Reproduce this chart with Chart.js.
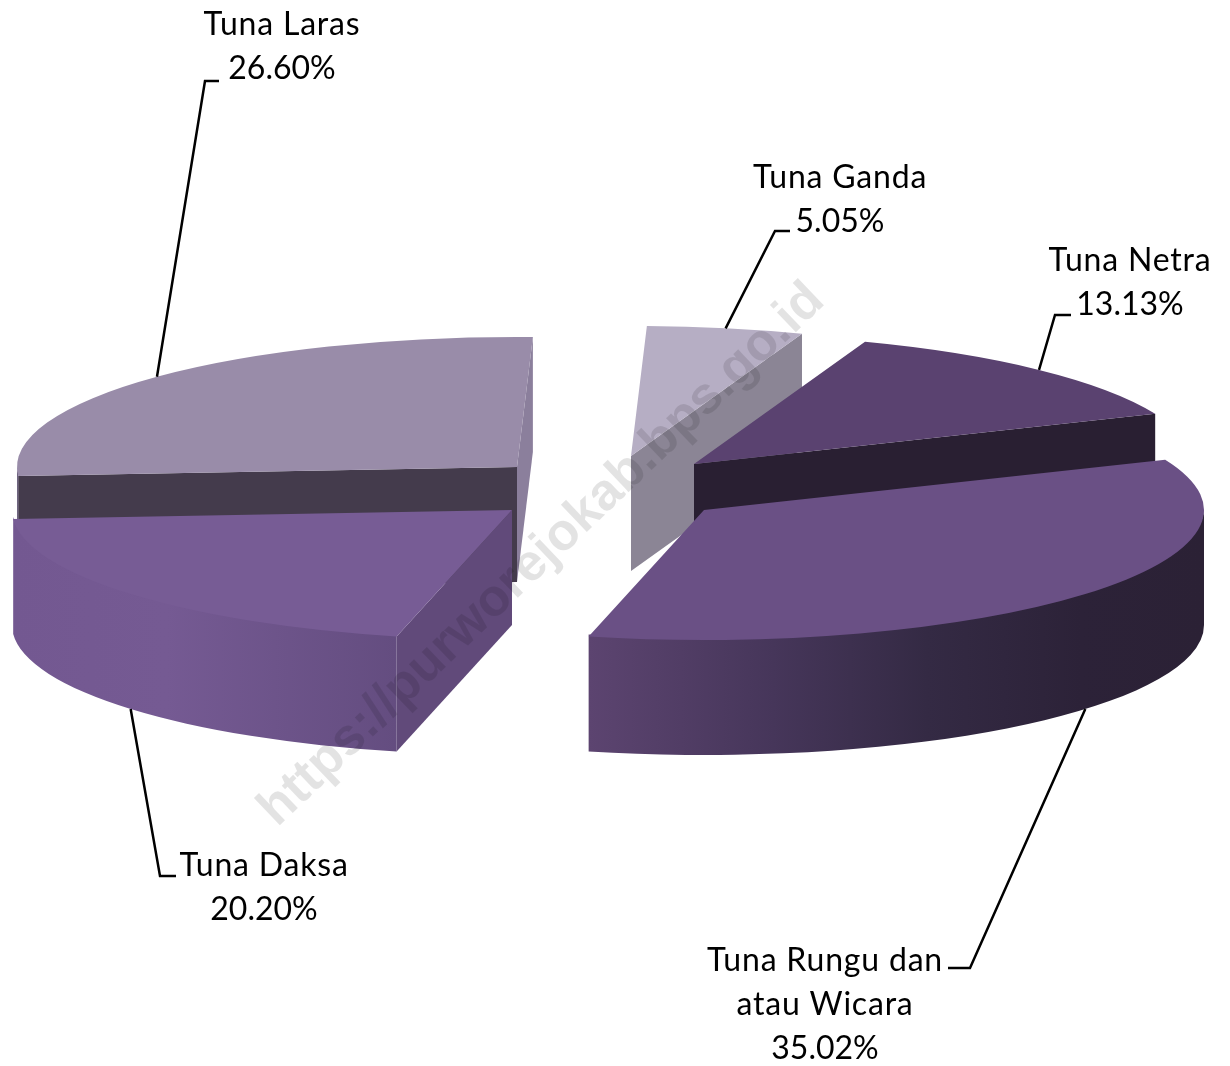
<!DOCTYPE html>
<html>
<head>
<meta charset="utf-8">
<title>Tuna</title>
<script src="https://cdn.jsdelivr.net/npm/chart.js@4/dist/chart.umd.min.js"></script>
<style>
  html, body { margin: 0; padding: 0; background: #fff; }
  canvas { display: block; }
</style>
</head>
<body>
<canvas id="pie" width="1230" height="1066"></canvas>
<script>
const categories = ['Tuna Netra', ['Tuna Rungu dan', 'atau Wicara'], 'Tuna Daksa', 'Tuna Laras', 'Tuna Ganda'];
const shares = [13.13, 35.02, 20.20, 26.60, 5.05];
const topColors = ['#5a4270', '#6a5085', '#775c95', '#998ca9', '#b6aec4'];

// 3D look: flatten factor and wall height
const SQUASH = 0.26;
const DEPTH = 115;

// how far each slice is pulled away from the middle
const pullX = [86, 96, -96, -91, 23];
const pullY = [-26, 20, 20, -23, -34];
const paintOrder = [4, 3, 0, 2, 1]; // back to front

const startWalls = [null, null, '#614a7a', '#443b4c', null];
const endWalls = ['#291f32', null, null, '#8b7f9c', '#8b8595'];
const rimStops = [
  null,
  [[0, '#5c4470'], [0.3, '#46365a'], [0.55, '#342a44'], [0.8, '#2c2238'], [1, '#2b2135']],
  [[0, '#735891'], [0.4, '#755a93'], [1, '#644d80']],
  [[0, '#6f6480'], [1, '#6f6480']],
  null
];

// label anchors: centre x, first baseline, then the leader elbow points
const labelX = [1130, 825, 264, 282, 840];
const labelY = [271, 971, 876, 35, 188];
const leaderElbows = [
  [[1055, 315], [1071, 315]],
  [[970, 968], [948, 968]],
  [[160, 876], [176, 876]],
  [[205, 81], [219, 81]],
  [[775, 231], [790, 231]]
];

function facesViewer(angle) {
  return Math.sin(angle) > 0;
}

function drawCutWall(ctx, px, py, r, angle, color) {
  const ex = px + Math.cos(angle) * r;
  const ey = py + Math.sin(angle) * r * SQUASH;
  ctx.fillStyle = color;
  ctx.beginPath();
  ctx.moveTo(px, py);
  ctx.lineTo(ex, ey);
  ctx.lineTo(ex, ey + DEPTH);
  ctx.lineTo(px, py + DEPTH);
  ctx.closePath();
  ctx.fill();
}

function drawRimWall(ctx, px, py, r, a0, a1, stops) {
  const from = Math.max(a0, 0);
  const to = Math.min(a1, Math.PI);
  if (to <= from) return;
  const x0 = px + Math.cos(to) * r;
  const x1 = from === 0 ? px + r : px + Math.cos(from) * r;
  const grad = ctx.createLinearGradient(x0, 0, x1, 0);
  stops.forEach(s => grad.addColorStop(s[0], s[1]));
  ctx.fillStyle = grad;
  ctx.beginPath();
  // top edge starts a little higher so no white seam shows under the top face
  ctx.ellipse(px, py - 2, r, r * SQUASH, 0, from, to);
  ctx.ellipse(px, py + DEPTH, r, r * SQUASH, 0, to, from, true);
  ctx.closePath();
  ctx.fill();
}

function drawLabels(ctx, i, arc, px, py) {
  const r = arc.outerRadius;
  const mid = (arc.startAngle + arc.endAngle) / 2;
  const sx = px + Math.cos(mid) * r;
  let sy = py + Math.sin(mid) * r * SQUASH;
  if (Math.sin(mid) > 0) sy += DEPTH;

  ctx.strokeStyle = '#000';
  ctx.lineWidth = 2.5;
  ctx.beginPath();
  ctx.moveTo(sx, sy);
  leaderElbows[i].forEach(p => ctx.lineTo(p[0], p[1]));
  ctx.stroke();

  const names = [].concat(categories[i]);
  ctx.fillStyle = '#000';
  ctx.font = '32px Lato';
  ctx.textAlign = 'center';
  ctx.textBaseline = 'alphabetic';
  ctx.letterSpacing = '0.8px';
  names.forEach((t, n) => ctx.fillText(t, labelX[i], labelY[i] + n * 44));
  ctx.letterSpacing = '0px';
  ctx.fillText(shares[i].toFixed(2) + '%', labelX[i], labelY[i] + names.length * 44);
}

const solidPie = {
  id: 'solidPie',
  beforeDatasetDraw() {
    return false; // slices are painted below, in depth order
  },
  afterDatasetsDraw(chart) {
    const ctx = chart.ctx;
    const arcs = chart.getDatasetMeta(0).data;

    paintOrder.forEach(i => {
      const arc = arcs[i];
      const px = arc.x + pullX[i];
      const py = arc.y + pullY[i];
      const r = arc.outerRadius;
      const a0 = arc.startAngle;
      const a1 = arc.endAngle;

      if (startWalls[i] && facesViewer(a0 - Math.PI / 2)) drawCutWall(ctx, px, py, r, a0, startWalls[i]);
      if (endWalls[i] && facesViewer(a1 + Math.PI / 2)) drawCutWall(ctx, px, py, r, a1, endWalls[i]);
      if (rimStops[i]) drawRimWall(ctx, px, py, r, a0, a1, rimStops[i]);

      ctx.save();
      ctx.translate(px, py);
      ctx.scale(1, SQUASH);
      ctx.translate(-arc.x, -arc.y);
      arc.draw(ctx);
      ctx.restore();
    });

    arcs.forEach((arc, i) => drawLabels(ctx, i, arc, arc.x + pullX[i], arc.y + pullY[i]));

    // watermark over everything
    ctx.save();
    ctx.translate(542, 555);
    ctx.rotate(-43.7 * Math.PI / 180);
    ctx.font = 'bold 52px "Liberation Sans"';
    ctx.textAlign = 'center';
    ctx.textBaseline = 'middle';
    ctx.fillStyle = 'rgba(0,0,0,0.11)';
    ctx.fillText('https://purworejokab.bps.go.id', 0, 0);
    ctx.restore();
  }
};

new Chart(document.getElementById('pie'), {
  type: 'pie',
  data: {
    labels: categories,
    datasets: [{
      data: shares,
      backgroundColor: topColors,
      borderWidth: 0,
      radius: 500
    }]
  },
  options: {
    responsive: false,
    animation: false,
    rotation: 20,
    layout: { padding: { right: 14, bottom: 86 } },
    plugins: {
      legend: { display: false },
      tooltip: { enabled: false }
    }
  },
  plugins: [solidPie]
});
</script>
</body>
</html>
